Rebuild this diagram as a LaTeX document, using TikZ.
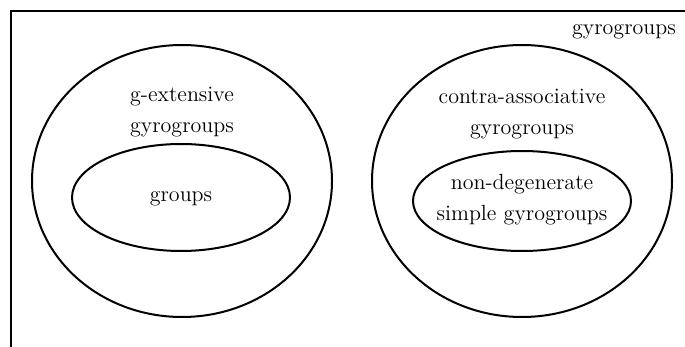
\documentclass[tikz,border=0pt]{standalone}
\usetikzlibrary{shapes.geometric}
\begin{document}
\begin{tikzpicture}[x=0.5pt,y=-0.5pt,
  set/.style={draw,ellipse,line width=1pt,inner sep=0pt},
  lbl/.style={align=center,font=\fontsize{11}{15.5}\selectfont,inner sep=0pt}]
\useasboundingbox (0,0) rectangle (685,347);
\clip (0,0) rectangle (685,347);
\draw[line width=1pt] (11,11) rectangle (720,380);
\node[set,minimum width=150pt,minimum height=136pt] (ge) at (182,181) {};
\node[set,minimum width=150pt,minimum height=136pt] (ca) at (522,181) {};
\node[set,minimum width=109pt,minimum height=53.5pt] (gr) at (181,197.5) {};
\node[set,minimum width=109pt,minimum height=50pt] (nd) at (522,201) {};
\node[lbl] (tgyro) at (624,32) {gyrogroups};
\node[lbl] (tge) at (182,112) {g-extensive\\gyrogroups};
\node[lbl] (tgr) at (181,199) {groups};
\node[lbl] (tca) at (522,114) {contra-associative\\gyrogroups};
\node[lbl] (tnd) at (522,200) {non-degenerate\\simple gyrogroups};
\end{tikzpicture}
\end{document}
